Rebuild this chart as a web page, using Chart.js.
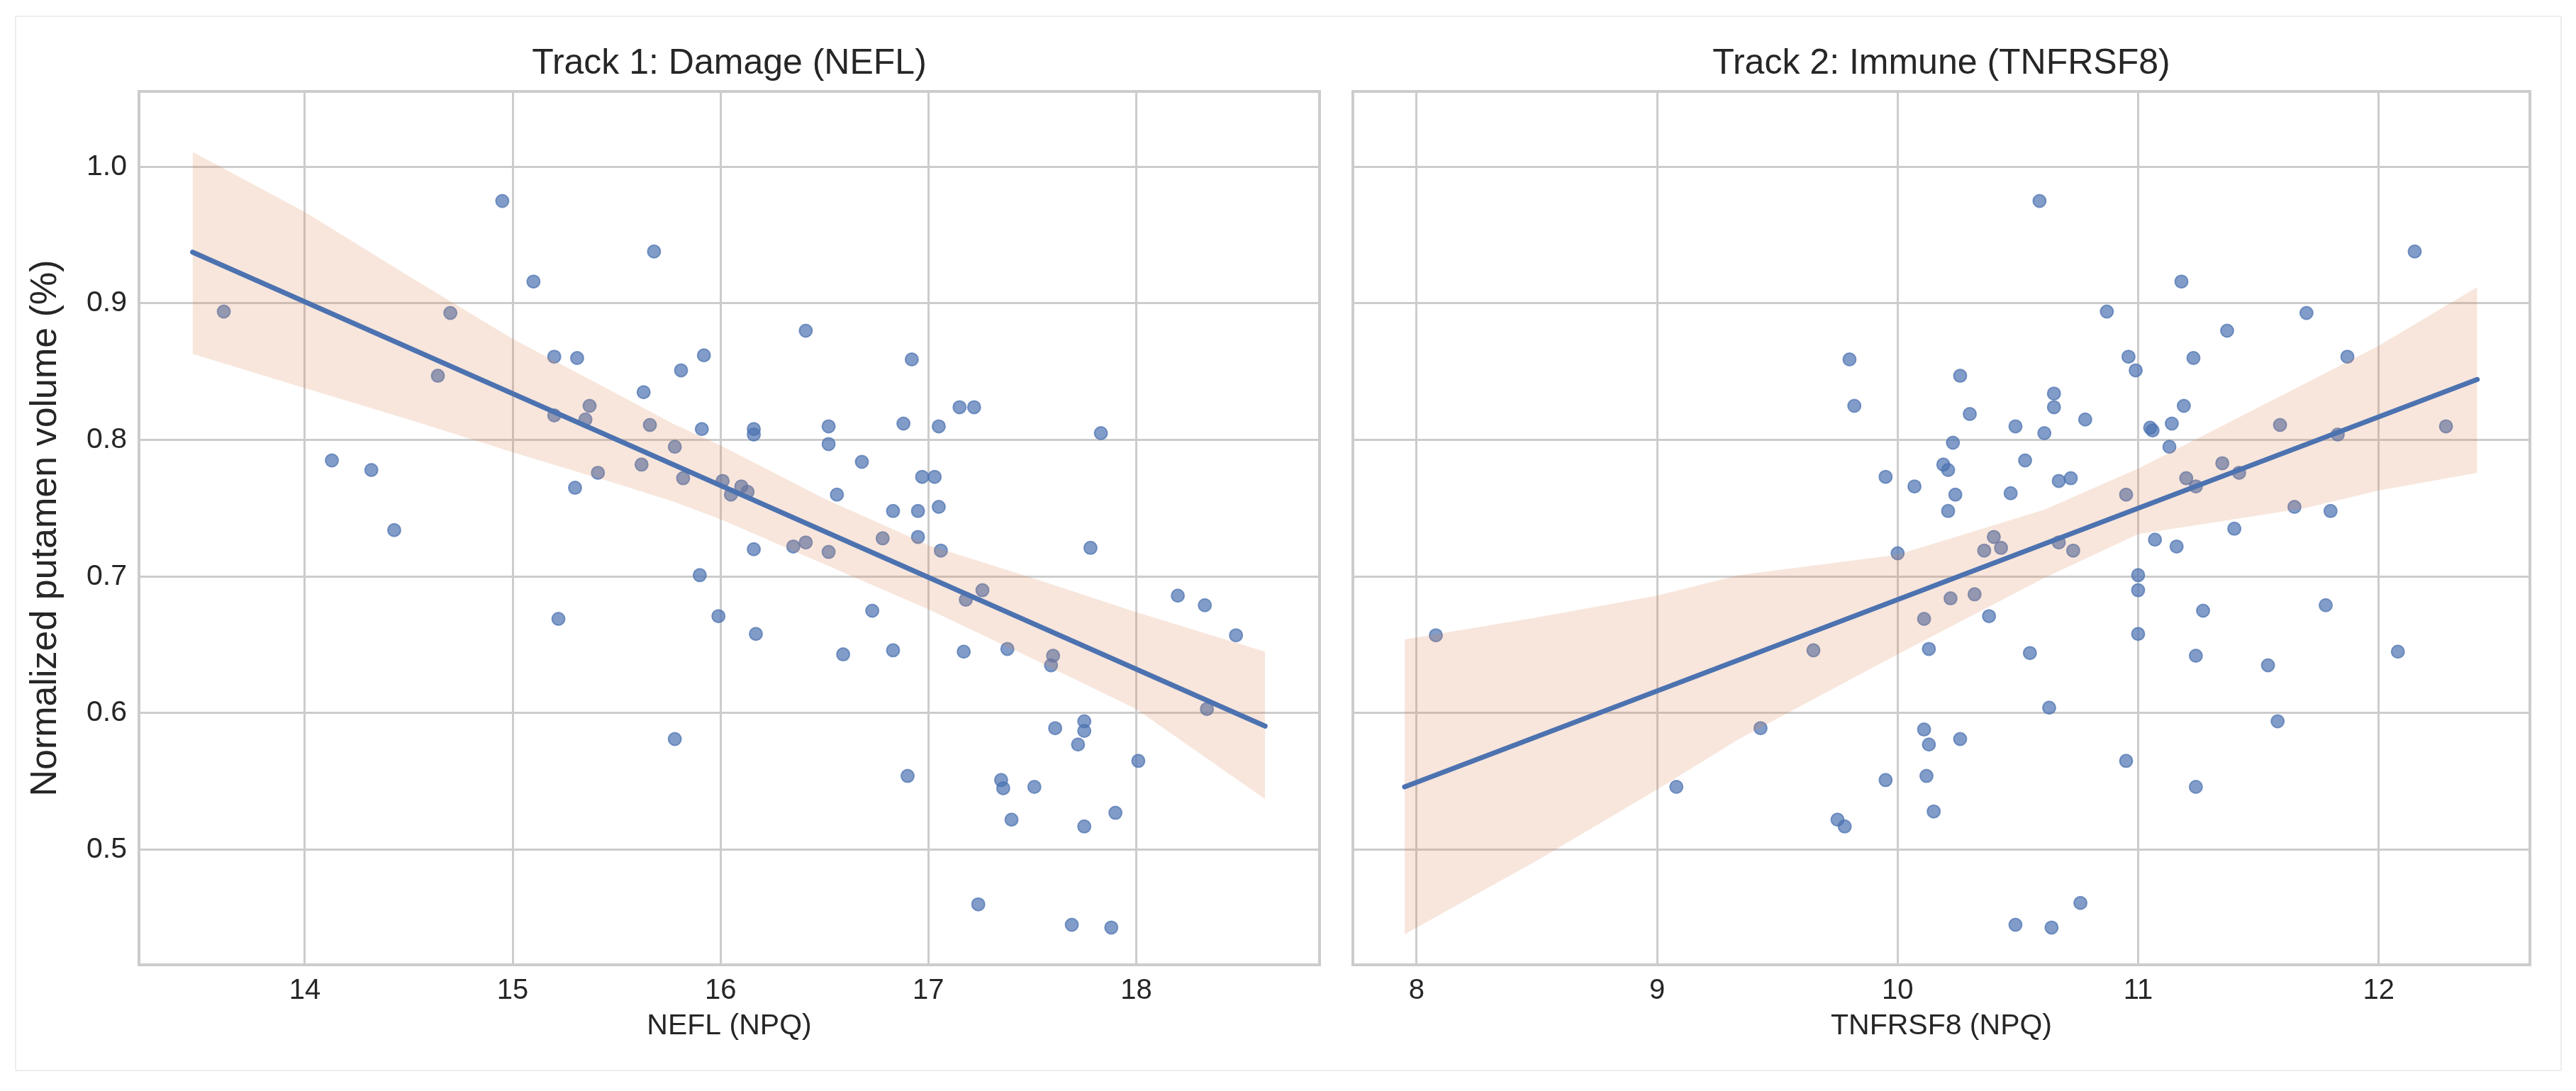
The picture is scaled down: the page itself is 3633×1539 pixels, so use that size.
<!DOCTYPE html>
<html>
<head>
<meta charset="utf-8">
<title>Putamen volume vs NEFL / TNFRSF8</title>
<script src="https://cdn.jsdelivr.net/npm/chart.js@4.4.1/dist/chart.umd.min.js"></script>
<style>
  html, body { margin: 0; padding: 0; background: #fff; }
  #fig { position: relative; width: 3633px; height: 1539px; background: #fff; }
  #frame { position: absolute; left: 21px; top: 22px; width: 3592px; height: 1489px; border: 2px solid #ededed; box-sizing: border-box; }
  canvas { position: absolute; top: 0; }
</style>
</head>
<body>
<div id="fig">
  <div id="frame"></div>
  <canvas id="neflChart" width="1884" height="1539" style="left:0"></canvas>
  <canvas id="tnfChart" width="1749" height="1539" style="left:1884px"></canvas>
</div>
<script>
// Track 1: NEFL (NPQ) vs normalized putamen volume
const neflX = [
  13.61, 14.95, 15.68, 15.10, 14.70, 16.41, 14.64, 15.20, 15.31, 15.92,
  15.81, 16.92, 15.63, 17.15, 17.22, 15.37, 15.20, 15.35, 15.66, 15.91,
  16.16, 16.16, 16.52, 16.52, 16.88, 17.05, 17.83, 14.13, 14.32, 14.43,
  15.30, 15.41, 15.62, 15.78, 15.82, 16.01, 16.05, 16.10, 16.13, 16.56,
  16.68, 16.97, 17.03, 16.83, 16.95, 17.05, 16.16, 16.35, 16.41, 16.52,
  16.78, 16.95, 17.06, 17.78, 15.90, 15.22, 15.99, 16.17, 16.73, 17.26,
  17.18, 18.20, 18.33, 18.48, 16.59, 16.83, 17.17, 17.38, 17.59, 17.60,
  18.34, 15.78, 17.61, 17.75, 17.75, 17.72, 18.01, 16.90, 17.35, 17.36,
  17.51, 17.40, 17.90, 17.75, 17.24, 17.69, 17.88
];
const neflVol = [
  0.894, 0.975, 0.938, 0.916, 0.893, 0.880, 0.847, 0.861, 0.860, 0.862,
  0.851, 0.859, 0.835, 0.824, 0.824, 0.825, 0.818, 0.815, 0.811, 0.808,
  0.808, 0.804, 0.810, 0.797, 0.812, 0.810, 0.805, 0.785, 0.778, 0.734,
  0.765, 0.776, 0.782, 0.795, 0.772, 0.770, 0.760, 0.766, 0.762, 0.760,
  0.784, 0.773, 0.773, 0.748, 0.748, 0.751, 0.720, 0.722, 0.725, 0.718,
  0.728, 0.729, 0.719, 0.721, 0.701, 0.669, 0.671, 0.658, 0.675, 0.690,
  0.683, 0.686, 0.679, 0.657, 0.643, 0.646, 0.645, 0.647, 0.635, 0.642,
  0.603, 0.581, 0.589, 0.594, 0.587, 0.577, 0.565, 0.554, 0.551, 0.545,
  0.546, 0.522, 0.527, 0.517, 0.460, 0.445, 0.443
];
// regression line ends and the CI band edges for track 1
const neflFitX = [13.46, 18.62];
const neflFitY = [0.9375, 0.5905];
const neflBandX = [13.46, 14.0, 14.5, 15.0, 15.5, 15.77, 16.0, 16.5, 17.0, 17.5, 18.0, 18.62];
const neflBandHi = [1.011, 0.967, 0.920, 0.874, 0.834, 0.812, 0.796, 0.757, 0.723, 0.699, 0.674, 0.645];
const neflBandLo = [0.863, 0.838, 0.815, 0.791, 0.768, 0.755, 0.742, 0.709, 0.676, 0.640, 0.603, 0.537];

// Track 2: TNFRSF8 (NPQ)
const tnfX = [
  9.80, 9.82, 9.95, 10.07, 10.00, 10.11, 10.13, 9.65, 8.08, 9.43,
  9.08, 9.95, 9.75, 9.78, 10.11, 10.13, 10.12, 10.15, 11.00, 11.00,
  10.22, 10.32, 10.38, 11.27, 11.78, 10.55, 11.00, 11.24, 11.54, 12.08,
  10.63, 11.58, 10.26, 10.95, 11.24, 10.76, 10.49, 10.64, 10.59, 12.15,
  11.18, 10.87, 11.70, 11.37, 10.96, 11.23, 11.87, 10.99, 10.26, 10.65,
  10.65, 11.19, 10.30, 10.78, 10.49, 10.61, 11.05, 11.06, 11.14, 11.59,
  12.28, 11.83, 10.23, 11.13, 10.19, 10.21, 10.53, 10.67, 10.72, 10.47,
  10.24, 10.21, 11.35, 11.20, 11.42, 11.24, 10.95, 11.65, 11.80, 11.40,
  11.07, 11.16, 10.40, 10.36, 10.43, 10.67, 10.73
];
const tnfVol = [
  0.859, 0.825, 0.773, 0.766, 0.717, 0.669, 0.647, 0.646, 0.657, 0.589,
  0.546, 0.551, 0.522, 0.517, 0.588, 0.577, 0.554, 0.528, 0.701, 0.690,
  0.684, 0.687, 0.671, 0.675, 0.679, 0.644, 0.658, 0.642, 0.635, 0.645,
  0.604, 0.594, 0.581, 0.565, 0.546, 0.461, 0.445, 0.443, 0.975, 0.938,
  0.916, 0.894, 0.893, 0.880, 0.861, 0.860, 0.861, 0.851, 0.847, 0.834,
  0.824, 0.825, 0.819, 0.815, 0.810, 0.805, 0.809, 0.807, 0.812, 0.811,
  0.810, 0.804, 0.798, 0.795, 0.782, 0.778, 0.785, 0.770, 0.772, 0.761,
  0.760, 0.748, 0.783, 0.772, 0.776, 0.766, 0.760, 0.751, 0.748, 0.735,
  0.727, 0.722, 0.729, 0.719, 0.721, 0.725, 0.719
];
const tnfFitX = [7.95, 12.41];
const tnfFitY = [0.546, 0.8443];
const tnfBandX = [7.95, 8.5, 9.0, 9.34, 10.0, 10.61, 11.0, 11.29, 11.69, 12.0, 12.41];
const tnfBandHi = [0.654, 0.670, 0.686, 0.701, 0.716, 0.749, 0.779, 0.805, 0.841, 0.869, 0.912];
const tnfBandLo = [0.438, 0.492, 0.544, 0.581, 0.643, 0.699, 0.731, 0.739, 0.750, 0.763, 0.776];

// axes
const neflTicks = [14, 15, 16, 17, 18];
const tnfTicks = [8, 9, 10, 11, 12];
const volTicks = [0.5, 0.6, 0.7, 0.8, 0.9, 1.0];

const FONT = "'Liberation Sans', Arial, Helvetica, sans-serif";
const INK = '#262626';
const GRID = '#cccccc';
const Y_MIN = 0.4157, Y_MAX = 1.0552;

const pairs = (xs, ys) => xs.map((x, i) => ({ x, y: ys[i] }));
const fixedTicks = list => s => { s.ticks = list.map(v => ({ value: v })); };

function drawPanel(canvasId, p) {
  const ctx = document.getElementById(canvasId).getContext('2d');
  return new Chart(ctx, {
    type: 'scatter',
    data: {
      datasets: [
        {
          data: pairs(p.xs, p.ys),
          backgroundColor: 'rgba(76,114,176,0.7)',
          borderColor: 'rgba(76,114,176,0.7)',
          borderWidth: 2,
          pointRadius: 9,
          order: 3,
        },
        {
          type: 'line',
          data: pairs(p.bandX, p.bandHi),
          borderColor: 'rgba(0,0,0,0)',
          borderWidth: 0,
          pointRadius: 0,
          tension: 0,
          fill: '+1',
          backgroundColor: 'rgba(221,132,82,0.2)',
          order: 2,
        },
        {
          type: 'line',
          data: pairs(p.bandX, p.bandLo),
          borderColor: 'rgba(0,0,0,0)',
          borderWidth: 0,
          pointRadius: 0,
          tension: 0,
          fill: false,
          order: 2,
        },
        {
          type: 'line',
          data: pairs(p.fitX, p.fitY),
          borderColor: '#4C72B0',
          borderWidth: 7,
          borderCapStyle: 'round',
          pointRadius: 0,
          fill: false,
          order: 1,
        },
      ],
    },
    options: {
      responsive: false,
      devicePixelRatio: 1,
      animation: false,
      layout: { padding: 0 },
      plugins: { legend: { display: false }, tooltip: { enabled: false }, title: { display: false } },
      scales: {
        x: {
          type: 'linear', position: 'bottom', min: p.xMin, max: p.xMax,
          afterBuildTicks: fixedTicks(p.xTicks),
          afterFit: s => { s.height = 178; },
          grid: { color: GRID, lineWidth: 3, drawTicks: false },
          border: { display: true, color: GRID, width: 4 },
          ticks: { color: INK, font: { family: FONT, size: 40 }, padding: 13, maxRotation: 0, callback: v => String(v) },
          title: { display: true, text: p.xTitle, color: INK, font: { family: FONT, size: 41 }, padding: { top: 0, bottom: 67 } },
        },
        top: {
          type: 'linear', position: 'top', min: p.xMin, max: p.xMax,
          afterFit: s => { s.height = 129; },
          grid: { display: false, drawTicks: false },
          border: { display: true, color: GRID, width: 4 },
          ticks: { display: false },
          title: { display: true, text: p.title, color: INK, font: { family: FONT, size: 50 }, padding: { top: 60, bottom: 0 } },
        },
        y: {
          type: 'linear', position: 'left', min: Y_MIN, max: Y_MAX,
          afterBuildTicks: fixedTicks(volTicks),
          afterFit: s => { s.width = p.leftW; },
          grid: { color: GRID, lineWidth: 3, drawTicks: false },
          border: { display: true, color: GRID, width: 4 },
          ticks: { display: p.showY, color: INK, font: { family: FONT, size: 41 }, padding: 17, callback: v => v.toFixed(1) },
          title: { display: p.showY, text: 'Normalized putamen volume (%)', color: INK, font: { family: FONT, size: 52 }, padding: { top: 33, bottom: 0 } },
        },
        right: {
          type: 'linear', position: 'right', min: Y_MIN, max: Y_MAX,
          afterFit: s => { s.width = p.rightW; },
          grid: { display: false, drawTicks: false },
          border: { display: true, color: GRID, width: 4 },
          ticks: { display: false },
        },
      },
    },
  });
}

drawPanel('neflChart', {
  xs: neflX, ys: neflVol,
  fitX: neflFitX, fitY: neflFitY,
  bandX: neflBandX, bandHi: neflBandHi, bandLo: neflBandLo,
  xMin: 13.202, xMax: 18.882, xTicks: neflTicks,
  title: 'Track 1: Damage (NEFL)', xTitle: 'NEFL (NPQ)',
  showY: true, leftW: 196, rightW: 23,
});

drawPanel('tnfChart', {
  xs: tnfX, ys: tnfVol,
  fitX: tnfFitX, fitY: tnfFitY,
  bandX: tnfBandX, bandHi: tnfBandHi, bandLo: tnfBandLo,
  xMin: 7.735, xMax: 12.629, xTicks: tnfTicks,
  title: 'Track 2: Immune (TNFRSF8)', xTitle: 'TNFRSF8 (NPQ)',
  showY: false, leftW: 24, rightW: 65,
});
</script>
</body>
</html>
